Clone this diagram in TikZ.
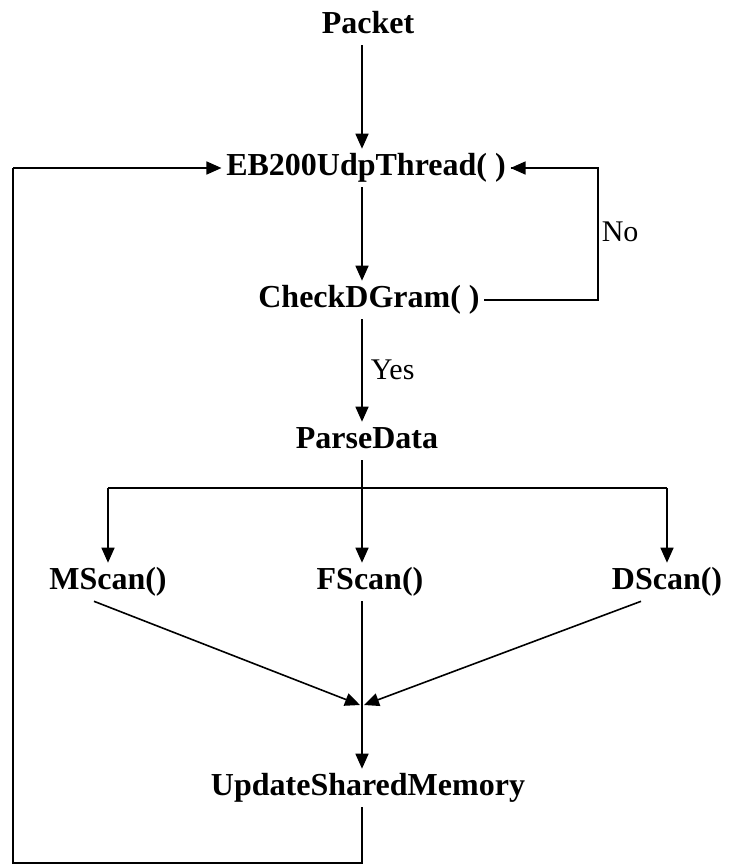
\documentclass[tikz,border=0pt]{standalone}
\usepackage{fontspec}
\setmainfont{Liberation Serif}
\usetikzlibrary{arrows.meta}

\tikzset{
    stepname/.style={font=\fontsize{32}{38}\selectfont\bfseries, inner sep=4pt,
        text height=22pt, text depth=7pt},
    branch/.style={font=\fontsize{30}{34}\selectfont, inner sep=0pt, anchor=west},
    arr/.style={-{Triangle[length=15pt,width=13pt]}},
}

\begin{document}
\begin{tikzpicture}[x=1pt, y=-1pt, line width=1.6pt]
    \useasboundingbox (0,0) rectangle (730,865);

    \node[stepname] (packet) at (368,26) {Packet};
    \node[stepname] (thread) at (366,168) {EB200UdpThread( )};
    \node[stepname] (check) at (369,300) {CheckDGram( )};
    \node[stepname] (parse) at (367,441) {ParseData};
    \node[stepname] (mscan) at (108,582) {MScan()};
    \node[stepname] (fscan) at (370,582) {FScan()};
    \node[stepname] (dscan) at (667,582) {DScan()};
    \node[stepname] (update) at (368,788) {UpdateSharedMemory};

    \node[branch] (no) at (601,232) {No};
    \node[branch] (yes) at (370,370) {Yes};

    % helper points
    \coordinate (split) at (362,488);
    \coordinate (merge) at (362,705);
    \coordinate (rightside) at (598,0);
    \coordinate (leftside) at (13,0);
    \coordinate (bottom) at (0,863);

    \draw[arr] (packet.south -| split) -- (thread.north -| split);
    \draw[arr] (thread.south -| split) -- (check.north -| split);
    \draw[arr] (check.south -| split) -- (parse.north -| split);
    \draw (check.east) -- (check.east -| rightside) |- (thread.east);
    \draw[arr] (thread.east -| rightside) -- (thread.east);

    % fan out
    \draw (parse.south -| split) -- (split);
    \draw[arr] (split) -- (fscan.north -| split);
    \draw (split -| mscan) -- (split -| dscan);
    \draw[arr] (split -| mscan) -- (mscan.north);
    \draw[arr] (split -| dscan) -- (dscan.north);

    % merge
    \draw[arr] (mscan.south) ++(-14,0) -- ([xshift=-2pt]merge);
    \draw[arr] (dscan.south) ++(-26,0) -- ([xshift=2pt]merge);
    \draw[arr] (fscan.south -| merge) -- (update.north -| merge);

    % loop back
    \draw (update.south -| merge) -- (bottom -| merge) -- (bottom -| leftside)
        -- (thread.west -| leftside);
    \draw[arr] (thread.west -| leftside) -- (thread.west);
\end{tikzpicture}
\end{document}
